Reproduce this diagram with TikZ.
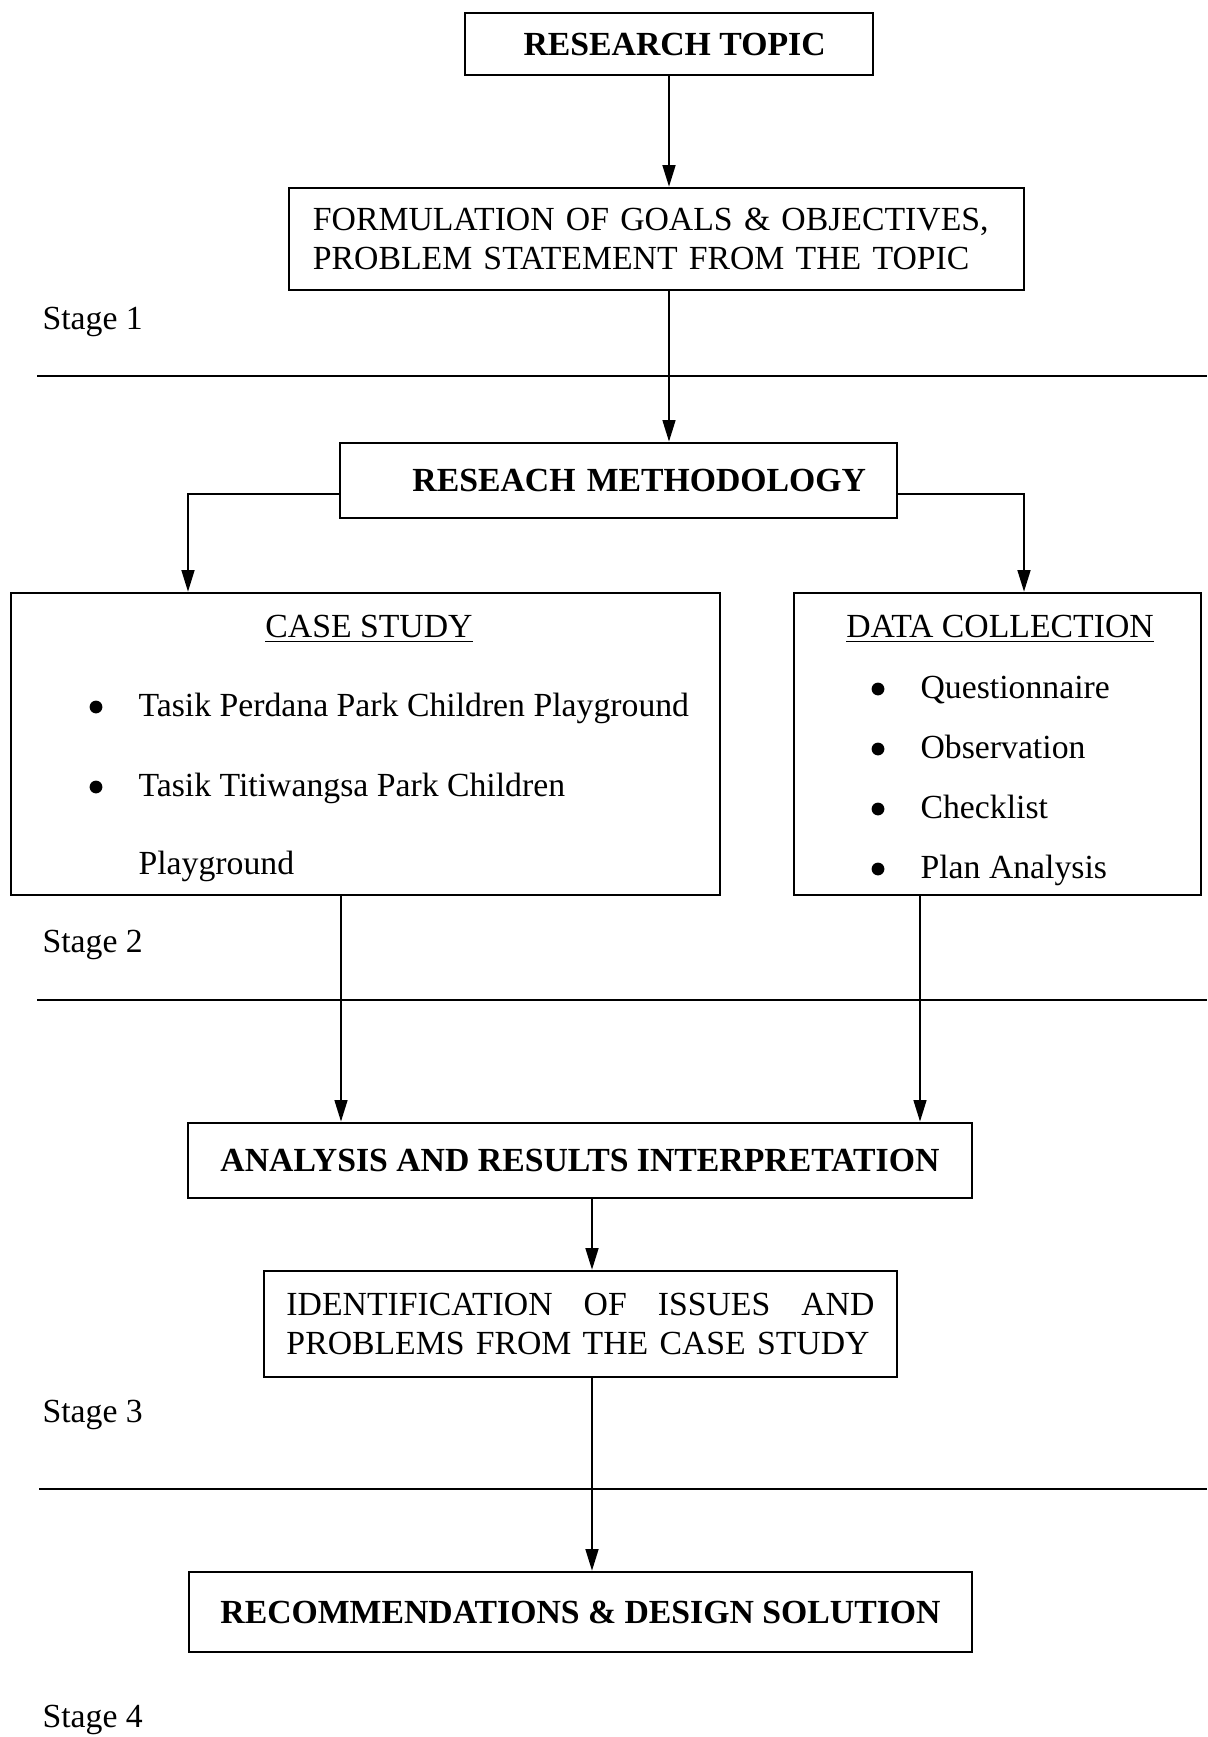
\documentclass[tikz,border=0pt]{standalone}
\usepackage{fontspec}
\setmainfont{Liberation Serif}
\usetikzlibrary{arrows.meta}

\tikzset{
  caja/.style={draw, line width=0.9pt, inner sep=0pt, font=\fontsize{12}{14}\selectfont},
  negrita/.style={caja, font=\fontsize{12}{14}\selectfont\bfseries},
  texto/.style={anchor=base west, inner sep=0pt, font=\fontsize{12}{14}\selectfont},
  titulo/.style={anchor=base, inner sep=0pt, font=\fontsize{12}{14}\selectfont},
  punto/.style={circle, fill, inner sep=0pt, minimum size=1.6mm},
  flecha/.style={line width=0.75pt, -{Triangle[width=1.6mm,length=2.7mm]}},
  separador/.style={line width=0.9pt}
}

\begin{document}
\begin{tikzpicture}[x=0.125mm, y=-0.125mm]
  \useasboundingbox (0,0) rectangle (1207,1737);

  % Etapa 1
  \node[negrita, minimum width=51mm, minimum height=7.75mm] (tema) at (669,44) {\hspace*{1.4mm}RESEARCH TOPIC};
  \node[caja, minimum width=91.9mm, minimum height=12.75mm, text width=85.9mm, align=left] (objetivos) at (656.5,239)
    {FORMULATION OF GOALS \& OBJECTIVES,\\PROBLEM STATEMENT FROM THE TOPIC};

  % Etapa 2
  \node[negrita, minimum width=69.6mm, minimum height=9.4mm, text width=61.9mm, align=right] (metodo) at (618.5,480.5) {RESEACH METHODOLOGY};
  \node[caja, minimum width=88.6mm, minimum height=37.75mm] (caso) at (365.5,744) {};
  \node[caja, minimum width=50.9mm, minimum height=37.75mm] (datos) at (997.5,744) {};

  % Contenido de las cajas
  \node[titulo] (casotit) at (369,637) {\underline{CASE STUDY}};
  \node[titulo] (datostit) at (1000,637) {\underline{DATA COLLECTION}};
  \node[punto] (c1) at (96,707) {};
  \node[texto] (t1) at (138,716) {Tasik Perdana Park Children Playground};
  \node[punto] (c2) at (96,787) {};
  \node[texto] (t2) at (138,796) {Tasik Titiwangsa Park Children};
  \node[texto] (t3) at (138,874) {Playground};
  \foreach \elem/\y [count=\i] in {Questionnaire/698, Observation/758, Checklist/818, Plan Analysis/878} {
    \node[punto] (d\i) at (878,\y-9) {};
    \node[texto] (e\i) at (920,\y) {\elem};
  }

  % Etapas 3 y 4
  \node[negrita, minimum width=98mm, minimum height=9.4mm] (analisis) at (580,1160.5) {ANALYSIS AND RESULTS INTERPRETATION};
  \node[caja, minimum width=79.1mm, minimum height=13.25mm, text width=73.5mm, align=left] (problemas) at (580.5,1324)
    {IDENTIFICATION\hfill OF\hfill ISSUES\hfill AND\\PROBLEMS FROM THE CASE STUDY};
  \node[negrita, minimum width=97.9mm, minimum height=10mm] (recom) at (580.5,1612) {RECOMMENDATIONS \& DESIGN SOLUTION};

  % Etiquetas de las etapas
  \foreach \n/\y in {1/329, 2/952, 3/1422, 4/1727}
    \node[texto] (etapa\n) at (42,\y) {Stage \n};

  % Lineas de separacion
  \draw[separador] (37,376) -- (1207,376);
  \draw[separador] (37,1000) -- (1207,1000);
  \draw[separador] (39,1489) -- (1207,1489);

  % Flechas
  \coordinate (izq) at (188,0);
  \coordinate (der) at (1024,0);
  \coordinate (bajaizq) at (341,0);
  \coordinate (bajader) at (920,0);
  \coordinate (centro) at (592,0);
  \draw[flecha] (tema) -- (tema |- objetivos.north);
  \draw[flecha] (objetivos.south -| tema) -- (metodo.north -| tema);
  \draw[flecha] ([yshift=-1.7mm]metodo.west) -| (caso.north -| izq);
  \draw[flecha] ([yshift=-1.7mm]metodo.east) -| (datos.north -| der);
  \draw[flecha] (caso.south -| bajaizq) -- (analisis.north -| bajaizq);
  \draw[flecha] (datos.south -| bajader) -- (analisis.north -| bajader);
  \draw[flecha] (analisis.south -| centro) -- (problemas.north -| centro);
  \draw[flecha] (problemas.south -| centro) -- (recom.north -| centro);
\end{tikzpicture}
\end{document}
